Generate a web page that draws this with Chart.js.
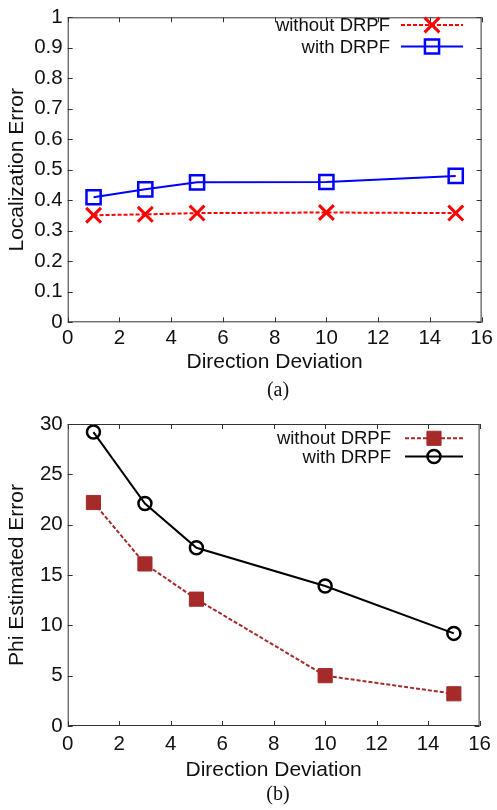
<!DOCTYPE html>
<html lang="en">
<head>
    <meta charset="UTF-8">
    <title>Direction deviation results</title>
    <script src="https://cdn.jsdelivr.net/npm/chart.js@4.4.1/dist/chart.umd.min.js"></script>
    <style>
        body {
            margin: 0;
            background: #fff;
        }
        #page {
            position: relative;
            width: 497px;
            height: 810px;
        }
        .panel {
            position: absolute;
            left: 0;
            width: 497px;
        }
        .caption {
            position: absolute;
            left: 0;
            width: 556px;
            text-align: center;
            font-family: "Liberation Serif", "Times New Roman", serif;
            font-size: 20px;
            line-height: 24px;
            color: #111;
        }
    </style>
</head>
<body>

<div id="page">
    <div class="panel" style="top:0;height:380px"><canvas id="chart_a"></canvas></div>
    <div class="caption" style="top:377px">(a)</div>
    <div class="panel" style="top:400px;height:385px"><canvas id="chart_b"></canvas></div>
    <div class="caption" style="top:781px">(b)</div>
</div>

<script>
    // direction deviation values used in both experiments
    const deviation = [1, 3, 5, 10, 15];

    // (a) localization error
    const locWithout = [0.351, 0.354, 0.358, 0.360, 0.358];
    const locWith = [0.410, 0.436, 0.459, 0.460, 0.480];

    // (b) phi estimated error
    const phiWithout = [22.2, 16.1, 12.6, 5.0, 3.2];
    const phiWith = [29.2, 22.1, 17.7, 13.9, 9.2];

    const xTicks = [0, 2, 4, 6, 8, 10, 12, 14, 16];
    const yTicksA = [0, 0.1, 0.2, 0.3, 0.4, 0.5, 0.6, 0.7, 0.8, 0.9, 1];
    const yTicksB = [0, 5, 10, 15, 20, 25, 30];

    const seriesNames = ['without DRPF', 'with DRPF'];

    const FONT = '"Liberation Sans", Arial, Helvetica, sans-serif';
    const TEXT = '#111';

    function points(xs, ys) {
        return xs.map((x, i) => ({x: x, y: ys[i]}));
    }

    function fmt(v) {
        return String(Number(v.toFixed(2)));
    }

    // draws one gnuplot-ish marker (used by the legend)
    function drawMarker(ctx, style, x, y, r) {
        ctx.beginPath();
        if (style === 'crossRot') {
            const d = r * Math.SQRT1_2;
            ctx.moveTo(x - d, y - d); ctx.lineTo(x + d, y + d);
            ctx.moveTo(x + d, y - d); ctx.lineTo(x - d, y + d);
            ctx.stroke();
        } else if (style === 'rect') {
            const s = r * Math.SQRT1_2;
            ctx.rect(x - s, y - s, 2 * s, 2 * s);
            ctx.fill();
            ctx.stroke();
        } else {
            ctx.arc(x, y, r, 0, Math.PI * 2);
            ctx.fill();
            ctx.stroke();
        }
    }

    // full box around the plot with inward ticks on every side
    const frameTicks = {
        id: 'frameTicks',
        afterDatasetsDraw(chart, args, opts) {
            const {ctx, chartArea: a, scales} = chart;
            const len = 5;
            ctx.save();
            ctx.strokeStyle = '#333';
            ctx.lineWidth = 1;
            ctx.strokeRect(a.left + 0.5, a.top + 0.5, a.width - 1, a.height - 1);
            ctx.beginPath();
            opts.xTicks.forEach(v => {
                const px = Math.round(scales.x.getPixelForValue(v)) + 0.5;
                ctx.moveTo(px, a.bottom); ctx.lineTo(px, a.bottom - len);
                ctx.moveTo(px, a.top); ctx.lineTo(px, a.top + len);
            });
            opts.yTicks.forEach(v => {
                const py = Math.round(scales.y.getPixelForValue(v)) + 0.5;
                ctx.moveTo(a.left, py); ctx.lineTo(a.left + len, py);
                ctx.moveTo(a.right, py); ctx.lineTo(a.right - len, py);
            });
            ctx.stroke();
            ctx.restore();
        }
    };

    // key in the top right corner: text, then a line sample with its marker
    const sampleLegend = {
        id: 'sampleLegend',
        afterDraw(chart, args, opts) {
            const ctx = chart.ctx;
            ctx.save();
            ctx.font = opts.fontSize + 'px ' + FONT;
            ctx.textAlign = 'right';
            ctx.textBaseline = 'middle';
            chart.data.datasets.forEach((ds, i) => {
                const y = opts.rows[i];
                ctx.fillStyle = TEXT;
                ctx.fillText(ds.label, opts.textRight, y + 1);
                ctx.strokeStyle = ds.borderColor;
                ctx.lineWidth = ds.borderWidth;
                ctx.setLineDash(ds.borderDash || []);
                ctx.beginPath();
                ctx.moveTo(opts.lineFrom, y);
                ctx.lineTo(opts.lineTo, y);
                ctx.stroke();
                ctx.setLineDash([]);
                ctx.strokeStyle = ds.pointBorderColor;
                ctx.fillStyle = ds.pointBackgroundColor;
                ctx.lineWidth = ds.pointBorderWidth;
                drawMarker(ctx, ds.pointStyle, (opts.lineFrom + opts.lineTo) / 2, y, ds.pointRadius);
            });
            ctx.restore();
        }
    };

    function makeChart(el, cfg) {
        return new Chart(el, {
            type: 'line',
            data: {datasets: cfg.datasets},
            options: {
                responsive: true,
                maintainAspectRatio: false,
                animation: false,
                events: [],
                layout: {padding: cfg.padding},
                plugins: {
                    legend: {display: false},
                    tooltip: {enabled: false},
                    frameTicks: {xTicks: xTicks, yTicks: cfg.yTicks},
                    sampleLegend: cfg.legend
                },
                scales: {
                    x: {
                        type: 'linear',
                        min: 0,
                        max: 16,
                        afterBuildTicks: s => { s.ticks = xTicks.map(v => ({value: v})); },
                        afterFit: s => { s.height = cfg.xHeight; },
                        grid: {display: false, drawTicks: false},
                        border: {display: false},
                        ticks: {
                            color: TEXT,
                            padding: cfg.xTickPad,
                            maxRotation: 0,
                            autoSkip: false,
                            font: {family: FONT, size: 20.5},
                            callback: v => fmt(v)
                        },
                        title: {
                            display: true,
                            text: 'Direction Deviation',
                            color: TEXT,
                            padding: 0,
                            font: {family: FONT, size: 21}
                        }
                    },
                    y: {
                        type: 'linear',
                        min: 0,
                        max: cfg.yTicks[cfg.yTicks.length - 1],
                        afterBuildTicks: s => { s.ticks = cfg.yTicks.map(v => ({value: v})); },
                        afterFit: s => { s.width = 67.7; },
                        grid: {display: false, drawTicks: false},
                        border: {display: false},
                        ticks: {
                            color: TEXT,
                            padding: 5,
                            autoSkip: false,
                            font: {family: FONT, size: 20.5},
                            callback: v => fmt(v)
                        },
                        title: {
                            display: true,
                            text: cfg.yTitle,
                            color: TEXT,
                            padding: {top: 5, bottom: 0},
                            font: {family: FONT, size: 21}
                        }
                    }
                }
            },
            plugins: [frameTicks, sampleLegend]
        });
    }

    document.addEventListener('DOMContentLoaded', () => {
        makeChart(document.getElementById('chart_a'), {
            padding: {top: 12.3, right: 12, bottom: 5, left: 0},
            xHeight: 52.7,
            xTickPad: 4,
            yTicks: yTicksA,
            yTitle: 'Localization Error',
            legend: {fontSize: 18.5, textRight: 390, lineFrom: 401, lineTo: 463, rows: [25, 46.5]},
            datasets: [{
                label: seriesNames[0],
                data: points(deviation, locWithout),
                borderColor: '#ff0000',
                borderWidth: 2,
                borderDash: [4, 2],
                pointStyle: 'crossRot',
                pointRadius: 10.5,
                pointBorderColor: '#ff0000',
                pointBackgroundColor: 'rgba(0,0,0,0)',
                pointBorderWidth: 3
            }, {
                label: seriesNames[1],
                data: points(deviation, locWith),
                borderColor: '#0000ff',
                borderWidth: 2,
                pointStyle: 'rect',
                pointRadius: 10,
                pointBorderColor: '#0000ff',
                pointBackgroundColor: 'rgba(0,0,0,0)',
                pointBorderWidth: 2.5
            }]
        });

        makeChart(document.getElementById('chart_b'), {
            padding: {top: 24, right: 12, bottom: 2.4, left: 0},
            xHeight: 56.6,
            xTickPad: 6,
            yTicks: yTicksB,
            yTitle: 'Phi Estimated Error',
            legend: {fontSize: 18.5, textRight: 391, lineFrom: 405, lineTo: 463, rows: [38.3, 56.5]},
            datasets: [{
                label: seriesNames[0],
                data: points(deviation, phiWithout),
                borderColor: '#a52a2a',
                borderWidth: 2,
                borderDash: [4, 2],
                pointStyle: 'rect',
                pointRadius: 10,
                pointBorderColor: '#a52a2a',
                pointBackgroundColor: '#a52a2a',
                pointBorderWidth: 1
            }, {
                label: seriesNames[1],
                data: points(deviation, phiWith),
                borderColor: '#000000',
                borderWidth: 2,
                pointStyle: 'circle',
                pointRadius: 6.5,
                pointBorderColor: '#000000',
                pointBackgroundColor: 'rgba(0,0,0,0)',
                pointBorderWidth: 2.5
            }]
        });
    });
</script>
</body>
</html>
